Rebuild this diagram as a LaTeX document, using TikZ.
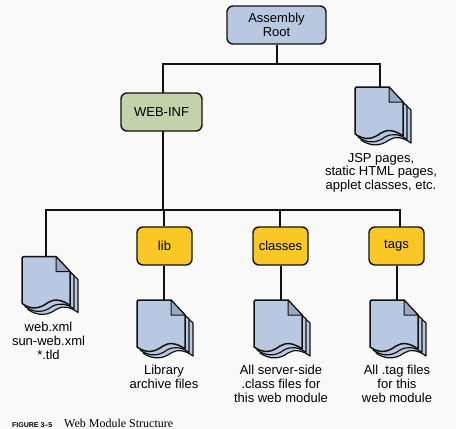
\documentclass[tikz,border=0pt]{standalone}
\usepackage{fontspec}
\setmainfont{Liberation Sans}
\newfontfamily\capfont{Liberation Serif}
\definecolor{bluefill}{HTML}{B8C8E0}
\definecolor{foldfill}{HTML}{9AA8C4}
\definecolor{greenfill}{HTML}{C3D2A8}
\definecolor{yellowfill}{HTML}{F9C827}
\definecolor{bgfill}{HTML}{F9F9F9}
\definecolor{ink}{HTML}{111111}
\tikzset{
  conn/.style={line width=1.5pt,ink},
  box/.style={draw=ink,line width=1.4pt,rounded corners=6pt,align=center,font=\fontsize{13}{14}\selectfont,inner sep=0pt},
  rootbox/.style={box,fill=bluefill,minimum width=99pt,minimum height=38pt},
  webbox/.style={box,fill=greenfill,minimum width=81pt,minimum height=38pt},
  tagbox/.style={box,fill=yellowfill,minimum width=55pt,minimum height=38pt},
  lbl/.style={align=center,font=\fontsize{13}{13.7}\selectfont,inner sep=0pt,anchor=north},
  docfile/.pic={
    \draw[line width=1.2pt,ink,fill=bluefill,line join=round] (40,8) -- (56,23) -- (56,56) .. controls (48,50) and (40,49) .. (34,53) .. controls (26,59) and (16,60) .. (6,53) -- cycle;
    \draw[line width=1.2pt,ink,fill=bluefill,line join=round] (40,8) -- (52,19) -- (52,52.5) .. controls (45,47) and (37,46) .. (30,50) .. controls (22,56) and (13,57) .. (3,50) -- cycle;
    \draw[line width=1.5pt,ink,fill=bluefill,line join=round] (1.5,0) -- (34,0) -- (48,15) -- (48,49) .. controls (40,43) and (32,42) .. (26,46) .. controls (18,52) and (10,54) .. (0,47) -- (0,1.5) -- cycle;
    \draw[line width=1pt,ink,fill=foldfill,line join=round] (34,0) -- (48,15) -- (34,15) -- cycle;
  }
}
\begin{document}
\begin{tikzpicture}[x=1pt,y=-1pt]
\useasboundingbox[fill=bgfill] (0,0) rectangle (456,429);
\coordinate (busA) at (277,64);
\coordinate (busB) at (163,210);
\coordinate (dJsp) at (380,87);
\coordinate (dWeb) at (46,256);
\coordinate (dLib) at (164,300);
\coordinate (dCls) at (281,300);
\coordinate (dTag) at (397,300);
\coordinate (upCls) at (280,227);
\coordinate (upTag) at (400,227);
\node[rootbox] (root) at (276.5,25) {Assembly\\Root};
\node[webbox] (web) at (161.5,112) {WEB-INF};
\node[tagbox] (lib) at (164.5,246) {lib};
\node[tagbox] (classes) at (280.5,246) {classes};
\node[tagbox] (tags) at (396.5,246) {tags};
\draw[conn] (busA |- root.south) -- (busA);
\draw[conn] (163,93) |- (busA) -| (dJsp);
\draw[conn] (163,131) -- (busB);
\draw[conn] (dWeb) |- (busB) -| (upTag);
\draw[conn] (dLib |- lib.north) -- (dLib |- busB);
\draw[conn] (upCls) -- (upCls |- busB);
\draw[conn] (dLib |- lib.south) -- (dLib);
\draw[conn] (dCls |- classes.south) -- (dCls);
\draw[conn] (dTag |- tags.south) -- (dTag);
\pic at (355,87) {docfile};
\pic at (22,256.5) {docfile};
\pic at (137,300) {docfile};
\pic at (254,300) {docfile};
\pic at (370,300) {docfile};
\node[lbl] (t1) at (381,153) {JSP pages,\\static HTML pages,\\applet classes, etc.};
\node[lbl] (t2) at (48.5,322) {web.xml\\sun-web.xml\\*.tld};
\node[lbl] (t3) at (164,365) {Library\\archive files};
\node[lbl] (t4) at (281,365) {All server-side\\.class files for\\this web module};
\node[lbl] (t5) at (397,365) {All .tag files\\for this\\web module};
\node[anchor=base west,inner sep=0pt] (cap) at (12,427) {\fontsize{7}{8}\selectfont\textbf{FIGURE 3–5}};
\node[anchor=base west,inner sep=0pt,font=\capfont\fontsize{12}{13}\selectfont] (cap2) at (64,427) {Web Module Structure};
\end{tikzpicture}
\end{document}
